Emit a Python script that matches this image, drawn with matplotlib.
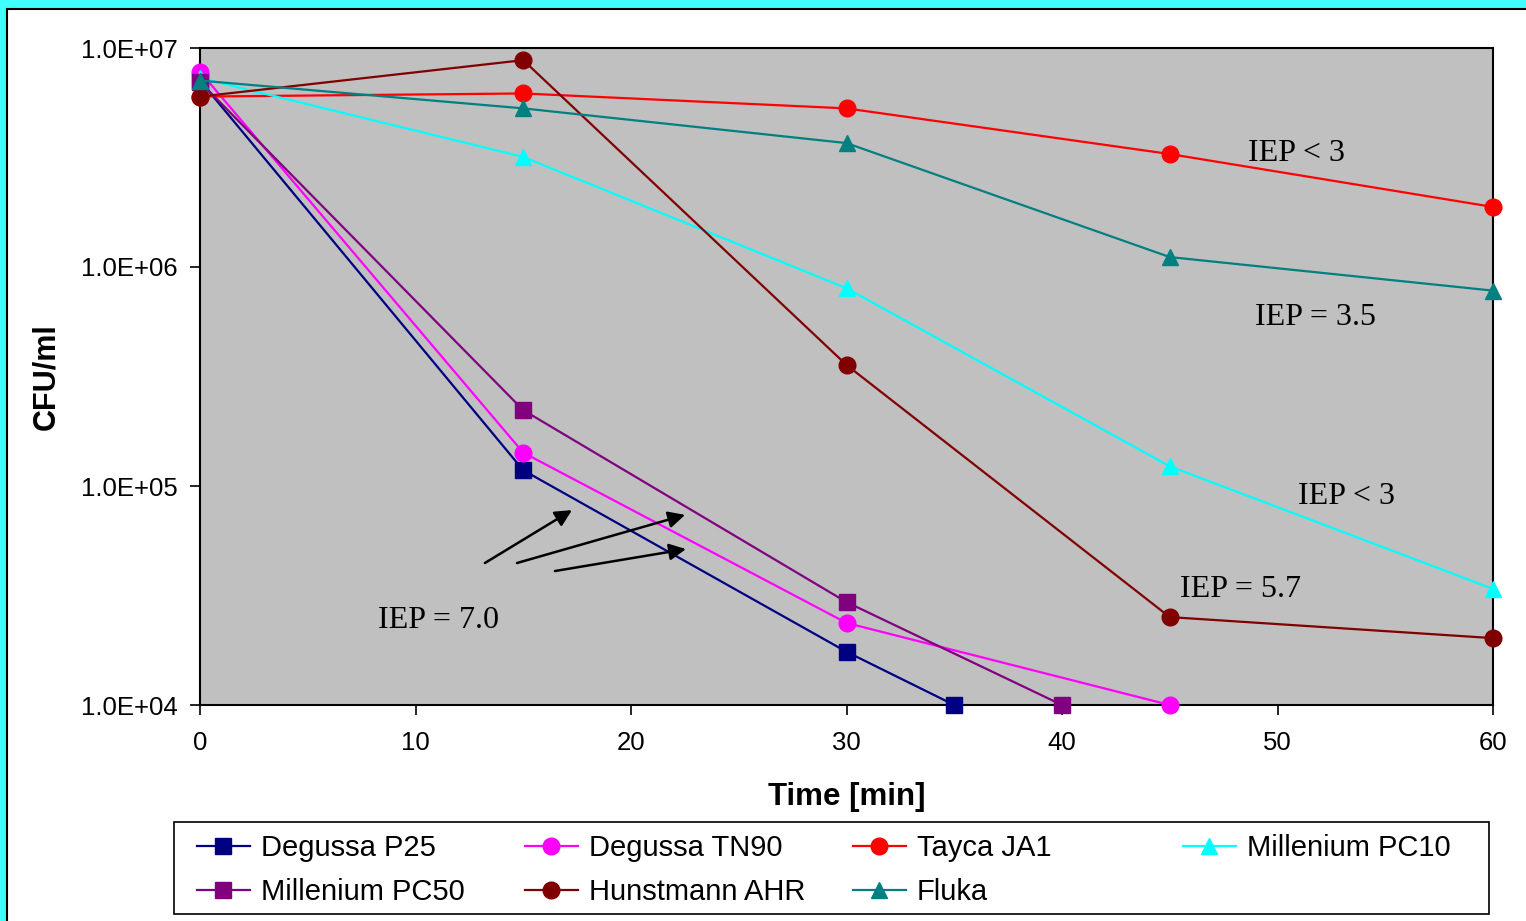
import matplotlib
matplotlib.use("Agg")
import matplotlib.pyplot as plt
from matplotlib.patches import Rectangle

# time points [min]
t_p25 = [0, 15, 30, 35]
t_tn90 = [0, 15, 30, 45]
t_ja1 = [0, 15, 30, 45, 60]
t_pc10 = [0, 15, 30, 45, 60]
t_pc50 = [0, 15, 30, 40]
t_ahr = [0, 15, 30, 45, 60]
t_fluka = [0, 15, 30, 45, 60]

# CFU/ml
cfu_p25 = [7.1e6, 1.18e5, 1.75e4, 1.0e4]
cfu_tn90 = [7.8e6, 1.42e5, 2.37e4, 1.0e4]
cfu_ja1 = [6.0e6, 6.2e6, 5.3e6, 3.28e6, 1.88e6]
cfu_pc10 = [7.3e6, 3.18e6, 8.0e5, 1.23e5, 3.39e4]
cfu_pc50 = [7.0e6, 2.22e5, 2.95e4, 1.0e4]
cfu_ahr = [6.0e6, 8.8e6, 3.57e5, 2.52e4, 2.02e4]
cfu_fluka = [7.1e6, 5.3e6, 3.68e6, 1.11e6, 7.8e5]

series = [
    ("Degussa P25", t_p25, cfu_p25, "#000080", "s"),
    ("Degussa TN90", t_tn90, cfu_tn90, "#FF00FF", "o"),
    ("Tayca JA1", t_ja1, cfu_ja1, "#FF0000", "o"),
    ("Millenium PC10", t_pc10, cfu_pc10, "#00FFFF", "^"),
    ("Millenium PC50", t_pc50, cfu_pc50, "#800080", "s"),
    ("Hunstmann AHR", t_ahr, cfu_ahr, "#800000", "o"),
    ("Fluka", t_fluka, cfu_fluka, "#008080", "^"),
]

x_ticks = [0, 10, 20, 30, 40, 50, 60]
y_ticks = [1e4, 1e5, 1e6, 1e7]
y_tick_labels = ["1.0E+04", "1.0E+05", "1.0E+06", "1.0E+07"]

plt.rcParams['font.family'] = ['Liberation Sans', 'DejaVu Sans']

fig = plt.figure(figsize=(15.26, 9.21), dpi=100)
fig.patch.set_facecolor("#40FFFF")
fig.patches.append(Rectangle((7 / 1526, -0.01), 1.0, 1 - 9 / 921 + 0.01,
                             transform=fig.transFigure, facecolor="white",
                             edgecolor="black", linewidth=1.5, zorder=-10))

ax = fig.add_axes([200 / 1526, 1 - 705 / 921, 1293 / 1526, 657 / 921])
ax.set_facecolor("#C0C0C0")

handles = {}
for name, t, v, c, m in series:
    h, = ax.plot(t, v, color=c, marker=m, markersize=12, linewidth=1.6,
                 label=name, clip_on=False, zorder=3)
    handles[name] = h

ax.set_yscale("log")
ax.set_xlim(0, 60)
ax.set_ylim(1e4, 1e7)
ax.set_xticks(x_ticks)
ax.set_yticks(y_ticks)
ax.set_yticklabels(y_tick_labels)
ax.minorticks_off()
ax.tick_params(axis="both", labelsize=18.5, direction="out", length=7, width=1.2)
ax.tick_params(axis="x", pad=12)
ax.tick_params(axis="y", pad=9)
for s in ax.spines.values():
    s.set_linewidth(1.5)

ax.set_xlabel("Time [min]", fontsize=22.5, fontweight="bold", labelpad=19)
ax.set_ylabel("CFU/ml", fontsize=22, fontweight="bold", labelpad=14)

serif = ['Liberation Serif', 'DejaVu Serif']
ax.text(48.63, 3.31e6, "IEP < 3", fontsize=23, family=serif, va="center")
ax.text(48.96, 5.85e5, "IEP = 3.5", fontsize=23, family=serif, va="center")
ax.text(50.95, 9.0e4, "IEP < 3", fontsize=23, family=serif, va="center")
ax.text(45.48, 3.38e4, "IEP = 5.7", fontsize=23, family=serif, va="center")
ax.text(8.26, 2.44e4, "IEP = 7.0", fontsize=23, family=serif, va="center")

arrows = [((13.22, 4.45e4), (17.26, 7.76e4)),
          ((14.71, 4.45e4), (22.51, 7.38e4)),
          ((16.47, 4.09e4), (22.55, 5.15e4))]
for start, end in arrows:
    ax.annotate("", xy=end, xytext=start,
                arrowprops=dict(arrowstyle="-|>", color="black", lw=1.8,
                                mutation_scale=25, shrinkA=0, shrinkB=0))

# legend: frame plus four equal-width columns
fig.patches.append(Rectangle((174 / 1526, 1 - 914 / 921), 1315 / 1526, 92 / 921,
                             transform=fig.transFigure, facecolor="white",
                             edgecolor="black", linewidth=1.2, zorder=1))
columns = [["Degussa P25", "Millenium PC50"],
           ["Degussa TN90", "Hunstmann AHR"],
           ["Tayca JA1", "Fluka"],
           ["Millenium PC10"]]
col_x = [197, 525, 853, 1183]
for names, cx in zip(columns, col_x):
    lg = fig.legend([handles[n] for n in names], names, loc="upper left",
                    bbox_to_anchor=(cx / 1526, 1 - 834 / 921), frameon=False,
                    fontsize=21, borderpad=0, borderaxespad=0,
                    handlelength=1.8, handletextpad=0.38, labelspacing=0.56)
    lg.set_zorder(2)

fig.savefig("out.png", dpi=100, facecolor=fig.get_facecolor())
